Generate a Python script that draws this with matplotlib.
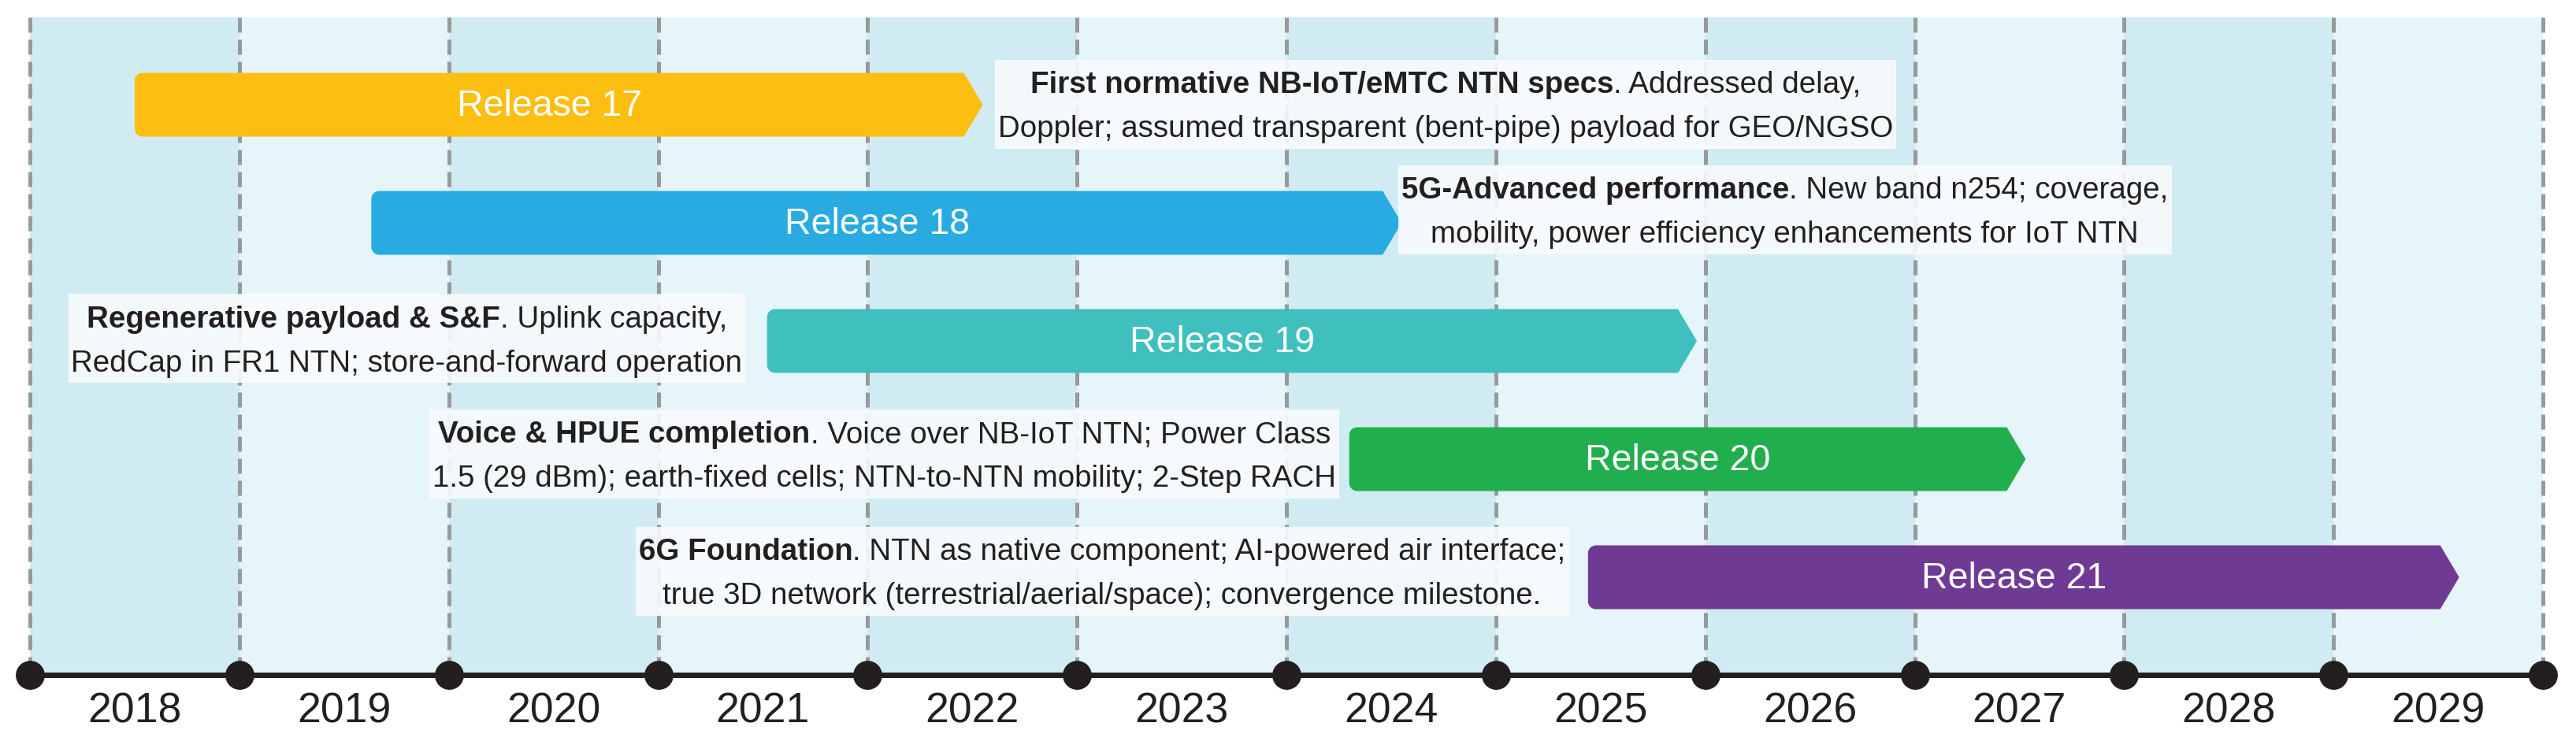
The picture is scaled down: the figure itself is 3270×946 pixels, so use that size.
"""
3GPP NTN release timeline
releases 17-21, 2018-2029
"""
import matplotlib.pyplot as plt
from matplotlib import font_manager
from matplotlib.patches import Polygon, Rectangle
import numpy as np

plt.rcParams['font.family'] = ['Liberation Sans', 'DejaVu Sans']

# years on the timeline
years = list(range(2018, 2030))

# release bars (start / arrow tip, in years)
release_names = ['Release 17', 'Release 18', 'Release 19', 'Release 20', 'Release 21']
release_start = [2018.50, 2019.63, 2021.52, 2024.30, 2025.44]
release_end = [2022.55, 2024.55, 2025.96, 2027.53, 2029.60]
release_colors = ['#FDBE12', '#29ABE2', '#3FBFBD', '#21AF4D', '#6F3A94']

# notes: bold head + rest of line 1, then line 2
note_bold = ['First normative NB-IoT/eMTC NTN specs',
             '5G-Advanced performance',
             'Regenerative payload & S&F',
             'Voice & HPUE completion',
             '6G Foundation']
note_rest = ['. Addressed delay,',
             '. New band n254; coverage,',
             '. Uplink capacity,',
             '. Voice over NB-IoT NTN; Power Class',
             '. NTN as native component; AI-powered air interface;']
note_line2 = ['Doppler; assumed transparent (bent-pipe) payload for GEO/NGSO',
              'mobility, power efficiency enhancements for IoT NTN',
              'RedCap in FR1 NTN; store-and-forward operation',
              '1.5 (29 dBm); earth-fixed cells; NTN-to-NTN mobility; 2-Step RACH',
              'true 3D network (terrestrial/aerial/space); convergence milestone.']
note_x = [2024.76, 2026.38, 2019.80, 2022.08, 2023.12]
note_row = [0.0, 0.89, 1.98, 2.96, 3.95]

# layout (pixels -> data)
W, H = 3270, 946
PPY = (3228 - 38) / 12.0      # px per year
PPR = 150.0                   # px per row
X0 = 2018 - 38 / PPY
Y0 = -133 / PPR

band_top = (22 - 133) / PPR
line_row = (857 - 133) / PPR
year_row = (918 - 133) / PPR

# 注释字体: 窄体优先
installed = {f.name for f in font_manager.fontManager.ttflist}
if 'Liberation Sans Narrow' in installed:
    NOTE_FAMILY, NOTE_FS = ['Liberation Sans Narrow', 'DejaVu Sans'], 33.5
else:
    NOTE_FAMILY, NOTE_FS = ['Liberation Sans', 'DejaVu Sans'], 27.7

fig = plt.figure(figsize=(W / 100, H / 100), dpi=100)
ax = fig.add_axes([0, 0, 1, 1])
ax.set_xlim(X0, X0 + W / PPY)
ax.set_ylim(Y0 + H / PPR, Y0)
ax.axis('off')

# 背景色带
band_colors = ['#D0ECF2' if i % 2 == 0 else '#E5F5FA' for i in range(len(years))]
ax.bar([y + 0.5 for y in years], line_row - band_top, bottom=band_top, width=1.0,
       color=band_colors, zorder=0, linewidth=0)

# 虚线
bounds = years + [years[-1] + 1]
ax.vlines(bounds, band_top, line_row, colors='#98999B', linewidth=3.6,
          linestyles=[(0, (3.8, 1.8))], zorder=1)

# 时间轴 + 点
ax.plot([bounds[0], bounds[-1]], [line_row, line_row], color='#231F20', lw=5, zorder=5,
        solid_capstyle='butt')
ax.plot(bounds, [line_row] * len(bounds), 'o', color='#231F20', ms=25.5, zorder=6)

for y in years:
    ax.text(y + 0.5, year_row, str(y), ha='center', va='baseline', fontsize=38.5,
            color='#231F20')


def arrow_shape(x0, x1, yc, h_px=81, r_px=10, tip_px=24):
    rx, ry = r_px / PPY, r_px / PPR
    hh = h_px / 2 / PPR
    tip = tip_px / PPY
    pts = [(x0 + rx, yc - hh), (x1 - tip, yc - hh), (x1, yc),
           (x1 - tip, yc + hh), (x0 + rx, yc + hh)]
    # bottom-left corner
    for a in np.linspace(np.pi / 2, np.pi, 8)[1:]:
        pts.append((x0 + rx + rx * np.cos(a), yc + hh - ry + ry * np.sin(a)))
    # top-left corner
    for a in np.linspace(np.pi, 1.5 * np.pi, 8):
        pts.append((x0 + rx + rx * np.cos(a), yc - hh + ry + ry * np.sin(a)))
    return pts


for i, name in enumerate(release_names):
    ax.add_patch(Polygon(arrow_shape(release_start[i], release_end[i], i),
                         closed=True, facecolor=release_colors[i], edgecolor='none',
                         zorder=3))
    mid = (release_start[i] + release_end[i] - 24 / PPY) / 2
    ax.text(mid, i + 14 / PPR, name, ha='center', va='baseline', fontsize=33.5,
            color='white', zorder=4)

# 注释框
renderer = fig.canvas.get_renderer()


def width_px(t):
    return t.get_window_extent(renderer).width


for i in range(len(note_bold)):
    c = note_row[i]
    b1 = c - 14.5 / PPR
    b2 = c + 41.5 / PPR
    tb = ax.text(0, b1, note_bold[i], fontsize=NOTE_FS, fontweight='bold',
                 family=NOTE_FAMILY, color='#231F20', va='baseline', ha='left', zorder=8)
    tr = ax.text(0, b1, note_rest[i], fontsize=NOTE_FS, family=NOTE_FAMILY,
                 color='#231F20', va='baseline', ha='left', zorder=8)
    t2 = ax.text(note_x[i], b2, note_line2[i], fontsize=NOTE_FS, family=NOTE_FAMILY,
                 color='#231F20', va='baseline', ha='center', zorder=8)
    wb, wr, w2 = width_px(tb), width_px(tr), width_px(t2)
    w1 = wb + wr
    left1 = note_x[i] - w1 / 2 / PPY
    tb.set_x(left1)
    tr.set_x(left1 + wb / PPY)
    wbox = max(w1, w2) + 8
    ax.add_patch(Rectangle((note_x[i] - wbox / 2 / PPY, c - 56.5 / PPR),
                           wbox / PPY, 113 / PPR, facecolor='#F8FBFD', alpha=0.9,
                           edgecolor='none', zorder=7))

fig.savefig('out.png', dpi=100)
